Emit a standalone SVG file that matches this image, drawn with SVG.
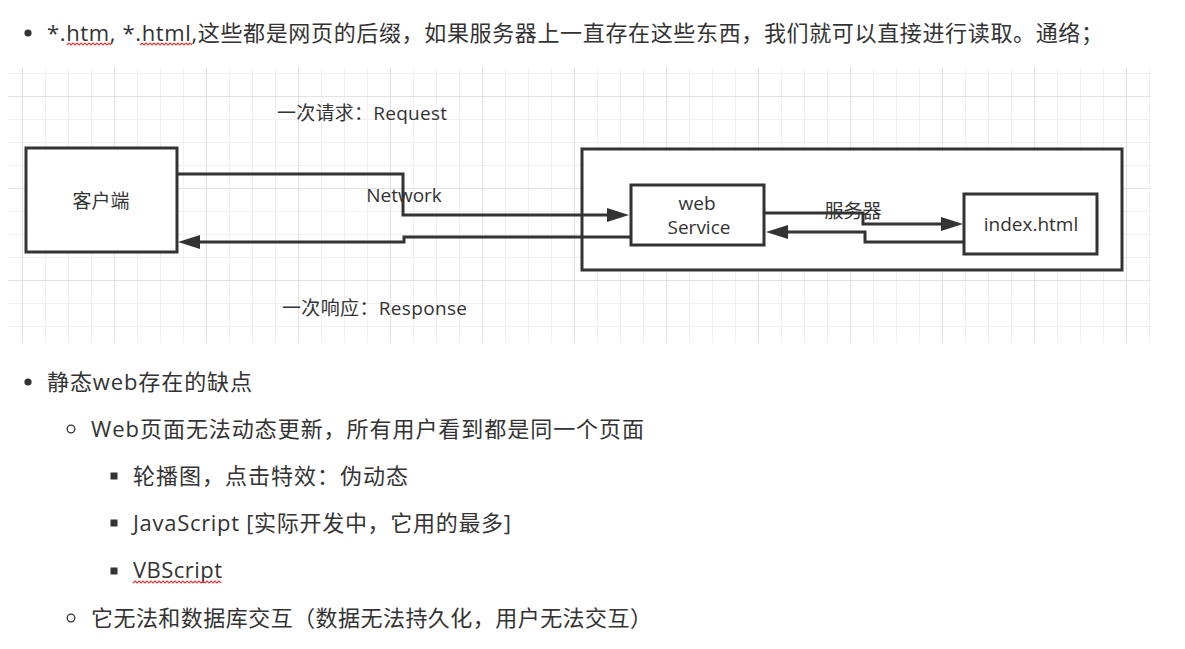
<svg xmlns="http://www.w3.org/2000/svg" width="1185" height="649" viewBox="0 0 1185 649">
<style>
.t{font-family:"Open Sans","Noto Sans CJK SC",sans-serif;fill:#333;}
.body{font-size:22px;}
.lbl{font-size:19px;}
.box{fill:#fff;stroke:#333;stroke-width:3;}
.ln{fill:none;stroke:#333;stroke-width:3;}
.gm{stroke:#f1f1f1;stroke-width:1;}
.gM{stroke:#e3e3e3;stroke-width:1;}
.sq{fill:none;stroke:#e03a3a;stroke-width:1.2;}
</style>
<defs>
<marker id="ah" markerUnits="userSpaceOnUse" markerWidth="23" markerHeight="14" refX="0" refY="7" orient="auto" overflow="visible">
<path d="M0,0 L22,7 L0,14 z" fill="#333"/>
</marker>
<pattern id="gridMinor" x="22" y="73" width="23" height="23" patternUnits="userSpaceOnUse">
<path d="M0.5,0 V23 M0,0.5 H23" class="gm"/>
</pattern>
</defs>
<rect width="1185" height="649" fill="#fff"/>

<!-- top bullet text -->
<circle cx="28" cy="33" r="3.6" fill="#333"/>
<text class="t body" x="47" y="41" textLength="1056">*.htm, *.html,这些都是网页的后缀，如果服务器上一直存在这些东西，我们就可以直接进行读取。通络；</text>
<path class="sq" d="M67,45 l2,-2 l2,2 l2,-2 l2,2 l2,-2 l2,2 l2,-2 l2,2 l2,-2 l2,2 l2,-2 l2,2 l2,-2 l2,2 l2,-2 l2,2 l2,-2 l2,2 l2,-2 l2,2 l2,-2 l2,2"/>
<path class="sq" d="M140,45 l2,-2 l2,2 l2,-2 l2,2 l2,-2 l2,2 l2,-2 l2,2 l2,-2 l2,2 l2,-2 l2,2 l2,-2 l2,2 l2,-2 l2,2 l2,-2 l2,2 l2,-2 l2,2 l2,-2 l2,2 l2,-2 l2,2 l2,-2 l2,2"/>

<!-- diagram grid -->
<g id="grid">
<rect x="8" y="68" width="1143" height="275" fill="url(#gridMinor)"/>
<path class="gM" d="M22.5,68 V343 M114.5,68 V343 M206.5,68 V343 M298.5,68 V343 M390.5,68 V343 M482.5,68 V343 M574.5,68 V343 M666.5,68 V343 M758.5,68 V343 M850.5,68 V343 M942.5,68 V343 M1034.5,68 V343 M1126.5,68 V343 M8,96.5 H1151 M8,188.5 H1151 M8,280.5 H1151"/>
</g>

<g id="client">
<rect class="box" x="26" y="148" width="151" height="104"/>
<text class="t lbl" x="101" y="208" text-anchor="middle">客户端</text>
</g>

<g id="server">
<rect class="box" x="582" y="149" width="540" height="121"/>
</g>

<g id="webService">
<rect class="box" x="631" y="185" width="133" height="60"/>
<text class="t lbl" x="697" y="210" text-anchor="middle">web</text>
<text class="t lbl" x="699" y="234" text-anchor="middle">Service</text>
</g>

<g id="indexHtml">
<rect class="box" x="964" y="194" width="133" height="60"/>
<text class="t lbl" x="1031" y="231" text-anchor="middle">index.html</text>
</g>

<g id="connectors">
<path class="ln" d="M177,174 H403 V215 H607" marker-end="url(#ah)"/>
<path class="ln" d="M631,237 H404 V242 H200" marker-end="url(#ah)"/>
<path class="ln" d="M764,213 H863 V224 H941" marker-end="url(#ah)"/>
<path class="ln" d="M964,242 H865 V232 H788" marker-end="url(#ah)"/>
</g>

<g id="labels">
<text class="t lbl" x="277" y="120" textLength="170">一次请求：Request</text>
<text class="t lbl" x="404" y="202" text-anchor="middle">Network</text>
<text class="t lbl" x="853" y="218" text-anchor="middle">服务器</text>
<text class="t lbl" x="282" y="315" textLength="185">一次响应：Response</text>
</g>

<!-- lower list -->
<circle cx="28" cy="382" r="3.6" fill="#333"/>
<text class="t body" x="47" y="390" textLength="205">静态web存在的缺点</text>
<circle cx="71" cy="429" r="3.8" fill="none" stroke="#333" stroke-width="1.3"/>
<text class="t body" x="91" y="437" textLength="553">Web页面无法动态更新，所有用户看到都是同一个页面</text>
<rect x="110.5" y="472.5" width="7" height="7" fill="#333"/>
<text class="t body" x="133" y="484" textLength="275">轮播图，点击特效：伪动态</text>
<rect x="110.5" y="519.5" width="7" height="7" fill="#333"/>
<text class="t body" x="133" y="531" textLength="378">JavaScript [实际开发中，它用的最多]</text>
<rect x="110.5" y="567.5" width="7" height="7" fill="#333"/>
<text class="t body" x="133" y="578" textLength="89">VBScript</text>
<path class="sq" d="M133,583 l2,-2 l2,2 l2,-2 l2,2 l2,-2 l2,2 l2,-2 l2,2 l2,-2 l2,2 l2,-2 l2,2 l2,-2 l2,2 l2,-2 l2,2 l2,-2 l2,2 l2,-2 l2,2 l2,-2 l2,2 l2,-2 l2,2 l2,-2 l2,2 l2,-2 l2,2 l2,-2 l2,2 l2,-2 l2,2 l2,-2 l2,2 l2,-2 l2,2 l2,-2 l2,2 l2,-2 l2,2 l2,-2 l2,2 l2,-2 l2,2"/>
<circle cx="71" cy="618" r="3.8" fill="none" stroke="#333" stroke-width="1.3"/>
<text class="t body" x="91" y="626" textLength="561">它无法和数据库交互（数据无法持久化，用户无法交互）</text>
</svg>
